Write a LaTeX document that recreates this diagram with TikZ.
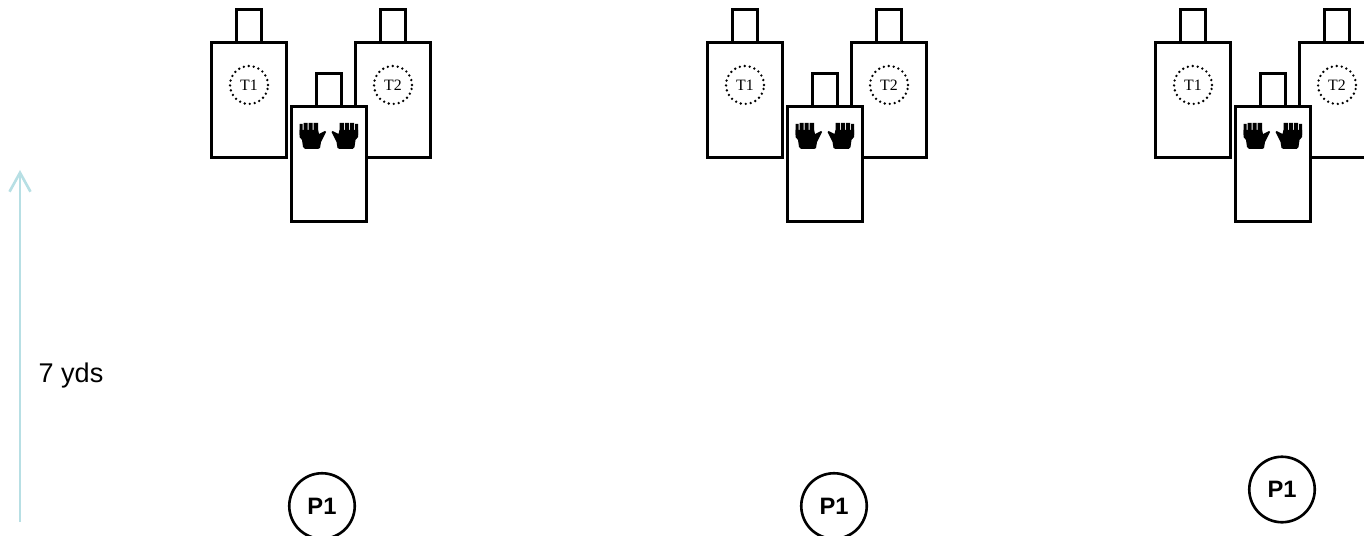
\documentclass[tikz,border=0pt]{standalone}
\usepackage{fontspec}
\setmainfont{Liberation Sans}
\newfontfamily\targetfont{Liberation Serif}
\usetikzlibrary{arrows.meta,positioning}
\definecolor{distcolor}{HTML}{B7DFE4}
\tikzset{
    torso/.style={draw=black, fill=white, line width=1.5pt, minimum width=1.51cm, minimum height=2.31cm, outer sep=0pt},
    head/.style={draw=black, fill=white, line width=1.5pt, minimum width=0.51cm, minimum height=0.65cm, outer sep=0pt},
    zone/.style={circle, draw=black, line width=1.5pt, dash pattern=on 0pt off 2.85pt, line cap=round, minimum size=0.76cm, inner sep=0pt, font=\targetfont\fontsize{9}{9}\selectfont},
    player/.style={circle, draw=black, fill=white, line width=1.5pt, minimum size=1.31cm, inner sep=0pt, font=\bfseries\fontsize{13.5}{14}\selectfont},
    dist/.style={draw=distcolor, line width=1.5pt, -{Straight Barb[length=0.38cm,width=0.42cm]}},
    label/.style={font=\fontsize{15.4}{16}\selectfont},
    hand/.pic={
        \fill (-12.5,-11) rectangle (-9.5,0) (-8.5,-12) rectangle (-4.5,0) (-3.5,-12) rectangle (0.5,0) (1.5,-12) rectangle (6,0);
        \fill (-12.5,-5) -- (6,-5) -- (7,-1) -- (13,-4) -- (14,-3) -- (9,7) -- (8,13) -- (6,14) -- (-7,14) -- (-9,12) -- (-10,5) -- (-12.5,2) -- cycle;
    },
}
\begin{document}
\begin{tikzpicture}[x=0.02cm, y=-0.02cm]
    \clip (0,0) rectangle (1364,536);

    % Distance arrow
    \coordinate (base) at (20,522);
    \coordinate (tip) at (20,170);
    \draw[dist] (base) -- (tip);
    \node[label] (yds) at (71,376) {7 yds};

    % Panels
    \foreach \n/\dx/\px/\py in {a/0/322/506, b/496/834/506, c/944/1282/489.5} {
        \node[torso] (left\n) at ({249+\dx},100) {};
        \node[head, above=0pt of left\n] (lefthead\n) {};
        \node[zone] (T1\n) at ({249+\dx},85) {T1};

        \node[torso] (right\n) at ({393+\dx},100) {};
        \node[head, above=0pt of right\n] (righthead\n) {};
        \node[zone] (T2\n) at ({393+\dx},85) {T2};

        \node[torso] (front\n) at ({329+\dx},164) {};
        \node[head, above=0pt of front\n] (fronthead\n) {};
        \pic at ({312+\dx},135) {hand};
        \pic[xscale=-1] at ({345.5+\dx},135) {hand};

        \node[player] (P\n) at (\px,\py) {P1};
    }
\end{tikzpicture}
\end{document}
